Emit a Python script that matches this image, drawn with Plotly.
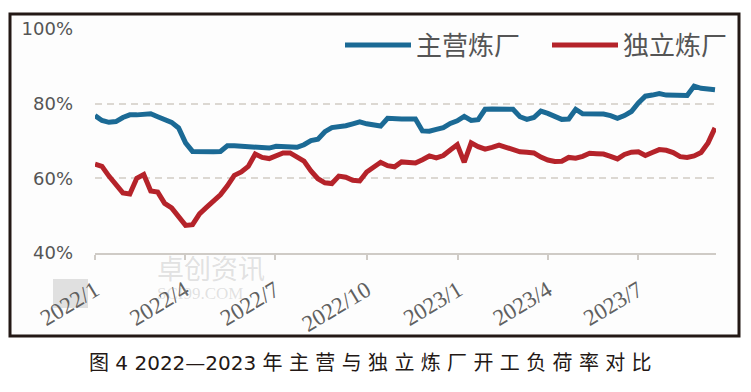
import pandas as pd
import plotly.graph_objects as go

# weekly observations, 2022-01-01 .. 2023-09-16
dates = pd.date_range("2022-01-01", periods=90, freq="7D")

major = [76.8, 75.5, 75.0, 75.2, 76.3, 77.0, 77.0, 77.1, 77.3, 76.5,
         75.6, 75.0, 73.5, 69.5, 67.2, 67.1, 67.1, 67.1, 67.2, 68.7,
         68.7, 68.6, 68.5, 68.3, 68.1, 68.1, 68.6, 68.6, 68.4, 68.3,
         69.0, 70.1, 70.5, 72.5, 73.6, 73.8, 74.1, 74.6, 75.1, 74.6,
         74.2, 74.0, 76.1, 75.9, 75.9, 75.9, 75.9, 72.7, 72.6, 73.1,
         73.6, 74.7, 75.4, 76.6, 75.5, 75.7, 78.5, 78.6, 78.6, 78.6,
         78.5, 76.5, 75.8, 76.3, 78.0, 77.4, 76.5, 75.8, 75.9, 78.5,
         77.3, 77.3, 77.2, 77.2, 76.8, 76.1, 76.8, 77.9, 80.2, 82.0,
         82.3, 82.7, 82.3, 82.2, 82.2, 82.2, 84.7, 84.1, 83.9, 83.7]

independent = [63.8, 63.2, 60.6, 58.1, 56.1, 55.8, 60.0, 61.0, 56.6, 56.3,
               53.3, 52.1, 49.6, 47.4, 47.6, 50.5, 52.2, 54.0, 55.6, 58.0,
               60.8, 61.7, 63.2, 66.5, 65.6, 65.3, 66.0, 66.8, 66.8, 65.6,
               64.6, 62.0, 59.9, 58.8, 58.6, 60.6, 60.3, 59.5, 59.3, 61.7,
               63.2, 64.3, 63.4, 63.1, 64.4, 64.3, 64.1, 65.0, 66.0, 65.5,
               66.1, 67.6, 69.0, 64.3, 69.5, 68.5, 67.8, 68.3, 68.9, 68.3,
               67.6, 67.1, 67.0, 66.8, 65.7, 64.9, 64.5, 64.6, 65.6, 65.4,
               65.9, 66.7, 66.6, 66.5, 65.9, 65.2, 66.4, 67.0, 67.1, 66.1,
               66.9, 67.7, 67.5, 66.9, 65.8, 65.6, 66.0, 66.9, 69.5, 73.5]

series_names = ["主营炼厂", "独立炼厂"]
x_tick_vals = ["2022-01-01", "2022-04-01", "2022-07-01", "2022-10-01",
               "2023-01-01", "2023-04-01", "2023-07-01"]
x_tick_text = ["2022/1", "2022/4", "2022/7", "2022/10", "2023/1", "2023/4", "2023/7"]
y_tick_vals = [40, 60, 80, 100]
y_tick_text = ["40%", "60%", "80%", "100%"]
caption = "图 4 2022—2023 年 主 营 与 独 立 炼 厂 开 工 负 荷 率 对 比"

W, H = 751, 392
L, R, T, B = 95, 716, 29, 253
pw, ph = R - L, B - T


def px(xp):
    return (xp - L) / pw


def py(yp):
    return (B - yp) / ph


fig = go.Figure()
fig.add_trace(go.Scatter(x=dates, y=major, name=series_names[0], mode="lines",
                         legendwidth=126,
                         line=dict(color="#1b6a95", width=5)))
fig.add_trace(go.Scatter(x=dates, y=independent, name=series_names[1], mode="lines",
                         legendwidth=112,
                         line=dict(color="#b5232a", width=5)))

# outer frame
fig.add_shape(type="rect", xref="paper", yref="paper",
              x0=px(10), x1=px(739), y0=py(336), y1=py(14),
              line=dict(color="#231815", width=3), fillcolor="#fdfdfd", layer="below")

# watermark
fig.add_shape(type="rect", xref="paper", yref="paper",
              x0=px(53), x1=px(88), y0=py(308), y1=py(279),
              line=dict(width=0), fillcolor="rgba(170,170,170,0.35)", layer="below")
fig.add_annotation(text="卓创资讯", xref="paper", yref="paper", x=px(155), y=py(289),
                   showarrow=False, font=dict(family="Noto Sans CJK SC", size=27,
                                              color="rgba(160,160,160,0.3)"))
fig.add_annotation(text="SCI99.COM", xref="paper", yref="paper", x=px(155), y=py(305),
                   showarrow=False, font=dict(family="Liberation Serif", size=17,
                                              color="rgba(160,160,160,0.3)"))

fig.add_annotation(text=caption, xref="paper", yref="paper", x=px(370), y=py(363),
                   xanchor="center", yanchor="middle", showarrow=False,
                   font=dict(family="DejaVu Sans, Noto Sans CJK SC", size=20, color="#231815"))

fig.update_layout(
    width=W, height=H,
    margin=dict(l=L, r=W - R, t=T, b=H - B, pad=0, autoexpand=False),
    paper_bgcolor="white", plot_bgcolor="rgba(0,0,0,0)",
    showlegend=True,
    legend=dict(orientation="h", x=px(340), y=py(45), xanchor="left", yanchor="middle",
                font=dict(family="Noto Sans CJK SC", size=26, color="#555555"),
                bgcolor="rgba(0,0,0,0)", itemwidth=66, borderwidth=0,
                tracegroupgap=0),
    xaxis=dict(type="date", range=["2022-01-01", "2023-09-17"],
               tickvals=x_tick_vals, ticktext=x_tick_text, tickangle=-31,
               tickfont=dict(family="Liberation Serif", size=23, color="#606060"),
               showline=True, linecolor="#cfcbc6", linewidth=1.5,
               ticks="outside", ticklen=5, tickcolor="#cfcbc6", tickwidth=1.5,
               ticklabelstandoff=8, automargin=False,
               showgrid=False, zeroline=False),
    yaxis=dict(range=[40, 100], tickvals=y_tick_vals, ticktext=y_tick_text,
               tickfont=dict(family="DejaVu Sans", size=18, color="#555555"),
               showgrid=True, gridcolor="#dcd8d2", gridwidth=1.5, griddash="7px,5px",
               showline=False, zeroline=False, ticks="", ticklabelstandoff=21,
               automargin=False),
)

fig.write_html("out.html", config={"displayModeBar": False},
               post_script="document.body.style.margin='0';")
